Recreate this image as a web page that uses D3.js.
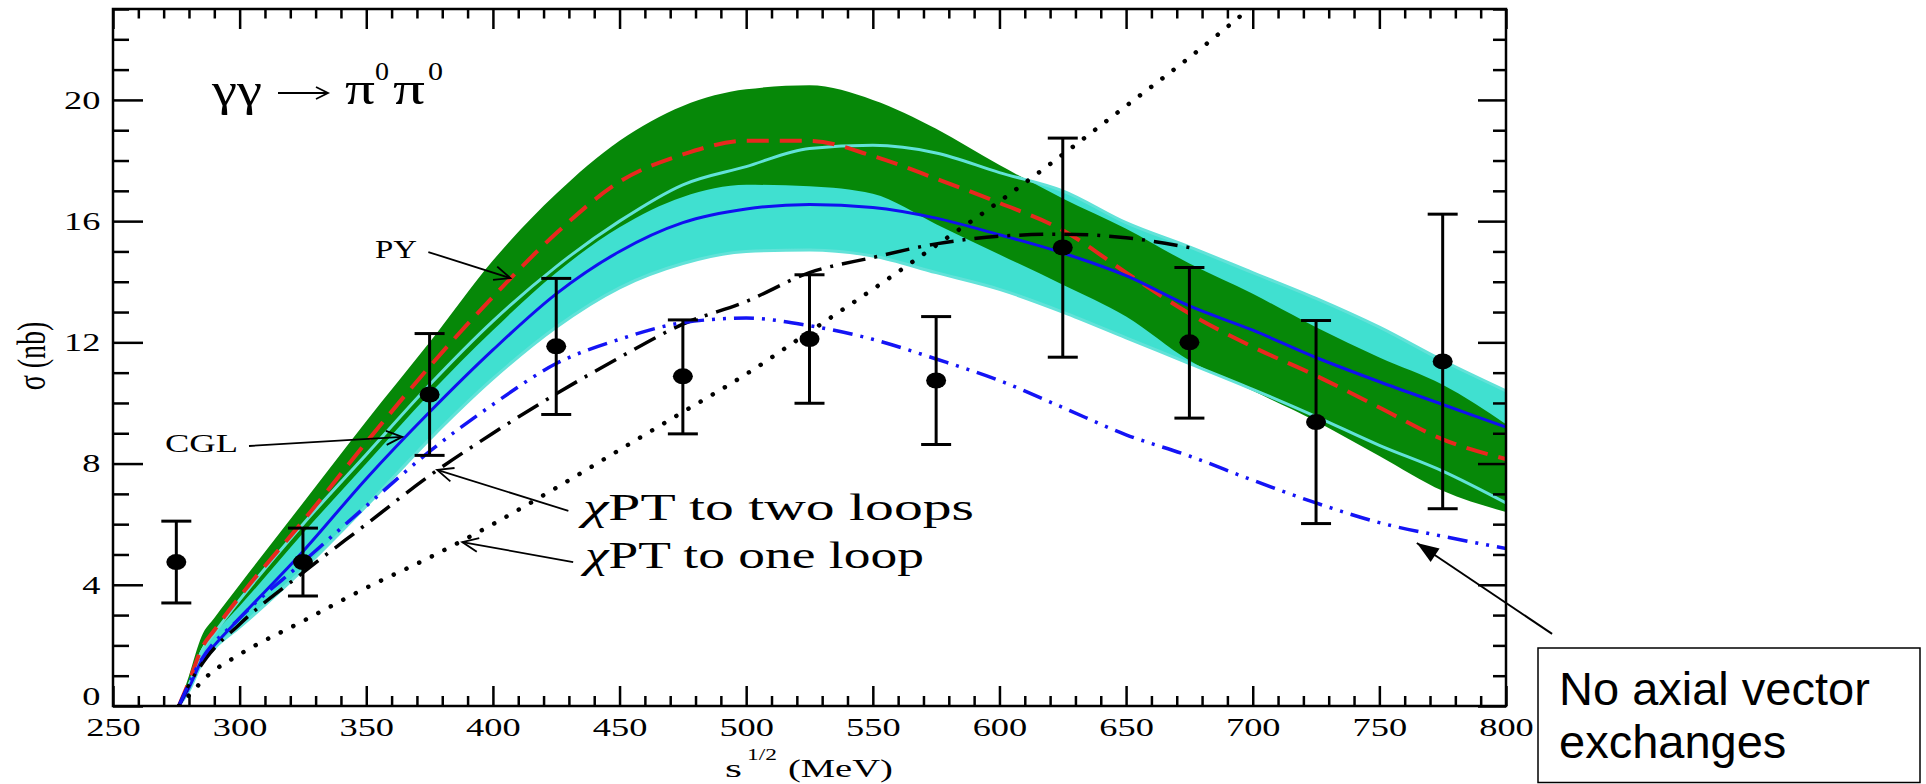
<!DOCTYPE html>
<html>
<head>
<meta charset="utf-8">
<script src="https://cdn.jsdelivr.net/npm/d3@7"></script>
<style>
  body { margin: 0; background: #fff; }
  svg { display: block; }
</style>
</head>
<body>
<script>
const W = 1926, H = 784;
const SERIF = "'Liberation Serif', 'Times New Roman', serif";
const SANS = "'Liberation Sans', Arial, sans-serif";

// sqrt(s) grid (MeV) shared by the two bands and their central curves
const bandX  = [276, 280, 285, 290, 300, 325, 350, 375, 400, 425, 450, 475, 500, 525, 550, 575, 600, 625, 650, 675, 700, 725, 750, 775, 800];
// PY band (green) and central curve (red dashed)
const pyHi   = [0, 1.0, 2.3, 2.9, 4.0, 6.7, 9.4, 12.0, 14.7, 16.9, 18.65, 19.8, 20.35, 20.48, 20.0, 19.05, 17.85, 16.75, 15.75, 14.6, 13.6, 12.5, 11.5, 10.6, 9.3];
const pyLo   = [0, 0.8, 1.9, 2.4, 3.3, 5.7, 8.0, 10.3, 12.4, 14.3, 15.8, 16.8, 17.2, 17.15, 16.9, 15.9, 14.9, 13.9, 12.85, 11.4, 10.4, 9.4, 8.25, 7.1, 6.4];
const pyMid  = [0, 0.8, 1.9, 2.5, 3.6, 6.1, 8.7, 11.2, 13.5, 15.6, 17.3, 18.2, 18.65, 18.65, 18.15, 17.4, 16.6, 15.7, 14.3, 12.95, 11.85, 10.9, 9.85, 8.8, 8.15];
// CGL band (turquoise) and central curve (blue)
const cglHi  = [0, 0.7, 1.8, 2.4, 3.5, 6.0, 8.3, 10.6, 12.7, 14.5, 16.0, 17.2, 17.8, 18.4, 18.5, 18.25, 17.6, 17.0, 15.95, 15.15, 14.3, 13.45, 12.5, 11.4, 10.4];
const cglLo  = [0, 0.5, 1.4, 1.9, 2.6, 4.5, 6.6, 8.8, 10.8, 12.5, 13.8, 14.6, 15.0, 15.05, 14.85, 14.3, 13.75, 13.0, 12.15, 11.3, 10.45, 9.55, 8.6, 7.75, 6.7];
const cglMid = [0, 0.6, 1.5, 2.0, 2.9, 5.1, 7.5, 9.7, 11.75, 13.6, 15.0, 15.95, 16.4, 16.55, 16.45, 16.1, 15.55, 14.95, 14.2, 13.2, 12.4, 11.5, 10.7, 9.95, 9.2];

// chiPT to two loops (black dash-dot)
const twoLoopX = [276, 280, 287, 300, 325, 350, 375, 400, 425, 450, 475, 500, 525, 550, 575, 600, 625, 650, 678];
const twoLoopY = [0, 0.7, 1.6, 2.7, 4.4, 6.0, 7.6, 9.0, 10.3, 11.5, 12.6, 13.35, 14.3, 14.8, 15.25, 15.5, 15.57, 15.45, 15.08];
// no axial vector exchanges (blue dash-dot-dot)
const noAxialX = [276, 284, 300, 325, 350, 375, 400, 425, 450, 475, 500, 525, 550, 575, 600, 625, 650, 675, 700, 725, 750, 775, 800];
const noAxialY = [0, 1.4, 2.9, 4.75, 6.6, 8.4, 9.95, 11.3, 12.1, 12.65, 12.8, 12.55, 12.1, 11.45, 10.74, 9.85, 8.95, 8.25, 7.45, 6.7, 6.05, 5.6, 5.2];
// chiPT to one loop (dotted)
const oneLoopX = [276, 280, 287, 300, 325, 350, 375, 400, 425, 450, 475, 500, 525, 550, 575, 600, 625, 650, 675, 700];
const oneLoopY = [0, 0.35, 0.97, 1.7, 2.8, 3.9, 4.9, 6.0, 7.2, 8.45, 9.7, 10.95, 12.35, 13.75, 15.2, 16.65, 18.2, 19.8, 21.4, 23.1];

// measured points with error bars
const dataX  = [275, 325, 375, 425, 475, 525, 575, 625, 675, 725, 775];
const dataY  = [4.75, 4.75, 10.28, 11.87, 10.88, 12.11, 10.74, 15.13, 12.0, 9.37, 11.37];
const dataLo = [3.4, 3.63, 8.27, 9.62, 8.98, 9.99, 8.63, 11.51, 9.5, 6.02, 6.51];
const dataHi = [6.1, 5.87, 12.29, 14.11, 12.74, 14.23, 12.85, 18.74, 14.47, 12.72, 16.23];

// axis ticks
const xMajor = d3.range(250, 801, 50);
const xMinor = d3.range(250, 801, 10).filter(v => v % 50 !== 0);
const yMajor = [0, 4, 8, 12, 16, 20];
const yMinor = d3.range(0, 24).filter(v => v % 4 !== 0);

// annotation arrows, [tail, tip] in (MeV, nb)
const arrowPY      = [[374.5, 14.98], [406.9, 14.12]];
const arrowCGL     = [[303.7, 8.58], [364.2, 8.88]];
const arrowTwoLoop = [[429.8, 6.44], [378.0, 7.79]];
const arrowOneLoop = [[431.7, 4.75], [387.9, 5.41]];
const arrowNoAxial = [[818.2, 2.38], [764.8, 5.38]];

const svg = d3.select("body").append("svg").attr("width", W).attr("height", H);
svg.append("rect").attr("width", W).attr("height", H).attr("fill", "#fff");

const x = d3.scaleLinear().domain([250, 800]).range([113, 1506]);
const y = d3.scaleLinear().domain([0, 23]).range([706, 9]);

svg.append("clipPath").attr("id", "plotclip").append("rect")
  .attr("x", 113).attr("y", 9).attr("width", 1393).attr("height", 697);
const plot = svg.append("g").attr("clip-path", "url(#plotclip)");

const band = (lo, hi) => d3.area().curve(d3.curveMonotoneX)
  .x(d => x(d)).y0((d, i) => y(lo[i])).y1((d, i) => y(hi[i]))(bandX);
const line = (xs, ys) => d3.line().curve(d3.curveMonotoneX)
  .x(d => x(d)).y((d, i) => y(ys[i]))(xs);

plot.append("path").attr("d", band(cglLo, cglHi)).attr("fill", "#40e0d0");
plot.append("path").attr("d", band(pyLo, pyHi)).attr("fill", "#068808");

// edges of the CGL band
[cglHi, cglLo].forEach(c => {
  plot.append("path").attr("d", line(bandX, c))
    .attr("fill", "none").attr("stroke", "#62e2d8").attr("stroke-width", 3);
});

plot.append("path").attr("d", line(bandX, pyMid))
  .attr("fill", "none").attr("stroke", "#e8281e").attr("stroke-width", 4)
  .attr("stroke-dasharray", "22,11");
plot.append("path").attr("d", line(bandX, cglMid))
  .attr("fill", "none").attr("stroke", "#1010f0").attr("stroke-width", 3);
plot.append("path").attr("d", line(twoLoopX, twoLoopY))
  .attr("fill", "none").attr("stroke", "#000").attr("stroke-width", 3.5)
  .attr("stroke-dasharray", "24,9,3,9");
plot.append("path").attr("d", line(noAxialX, noAxialY))
  .attr("fill", "none").attr("stroke", "#1414f5").attr("stroke-width", 3.5)
  .attr("stroke-dasharray", "20,8,3,8,3,8");
plot.append("path").attr("d", line(oneLoopX, oneLoopY))
  .attr("fill", "none").attr("stroke", "#000").attr("stroke-width", 4.5)
  .attr("stroke-linecap", "round").attr("stroke-dasharray", "0.1,14");

// error bars and points
const pts = svg.append("g");
dataX.forEach((v, i) => {
  const cx = x(v);
  pts.append("line").attr("x1", cx).attr("x2", cx).attr("y1", y(dataLo[i])).attr("y2", y(dataHi[i]))
    .attr("stroke", "#000").attr("stroke-width", 3);
  [dataLo[i], dataHi[i]].forEach(e => {
    pts.append("line").attr("x1", cx - 15).attr("x2", cx + 15).attr("y1", y(e)).attr("y2", y(e))
      .attr("stroke", "#000").attr("stroke-width", 3);
  });
  pts.append("ellipse").attr("cx", cx).attr("cy", y(dataY[i])).attr("rx", 10).attr("ry", 8).attr("fill", "#000");
});

// axes, ticks inside the frame
const noDomain = g => g.select(".domain").remove();
const tickStyle = g => g.selectAll(".tick line").attr("stroke", "#000").attr("stroke-width", 2.5);

svg.append("g").attr("transform", "translate(0,706)")
  .call(d3.axisBottom(x).tickValues(xMajor).tickSize(-20).tickPadding(12).tickFormat(d3.format("d")))
  .call(noDomain).call(tickStyle)
  .call(g => g.selectAll("text").attr("font-family", SERIF).attr("font-size", 26)
    .attr("fill", "#000").attr("transform", "scale(1.4,1)"));
svg.append("g").attr("transform", "translate(0,706)")
  .call(d3.axisBottom(x).tickValues(xMinor).tickSize(-10).tickFormat(""))
  .call(noDomain).call(tickStyle);
svg.append("g").attr("transform", "translate(0,9)")
  .call(d3.axisTop(x).tickValues(xMajor).tickSize(-20).tickFormat(""))
  .call(noDomain).call(tickStyle);
svg.append("g").attr("transform", "translate(0,9)")
  .call(d3.axisTop(x).tickValues(xMinor).tickSize(-9.5).tickFormat(""))
  .call(noDomain).call(tickStyle);

svg.append("g").attr("transform", "translate(113,0)")
  .call(d3.axisLeft(y).tickValues(yMajor).tickSize(-30).tickPadding(9).tickFormat(d3.format("d")))
  .call(noDomain).call(tickStyle)
  .call(g => g.selectAll("text").attr("font-family", SERIF).attr("font-size", 26)
    .attr("fill", "#000").attr("transform", "scale(1.4,1)"))
  .call(g => g.selectAll(".tick").filter(d => d === 0).select("text").attr("dy", "-0.05em"));
svg.append("g").attr("transform", "translate(113,0)")
  .call(d3.axisLeft(y).tickValues(yMinor).tickSize(-16).tickFormat(""))
  .call(noDomain).call(tickStyle);
svg.append("g").attr("transform", "translate(1506,0)")
  .call(d3.axisRight(y).tickValues(yMajor).tickSize(-28).tickFormat(""))
  .call(noDomain).call(tickStyle);
svg.append("g").attr("transform", "translate(1506,0)")
  .call(d3.axisRight(y).tickValues(yMinor).tickSize(-13).tickFormat(""))
  .call(noDomain).call(tickStyle);

svg.append("rect").attr("x", 113).attr("y", 9).attr("width", 1393).attr("height", 697)
  .attr("fill", "none").attr("stroke", "#000").attr("stroke-width", 2.5);

// text helpers: the original figure is stretched sideways, so fit widths
function fitText(str, x0, y0, size, width, family, style) {
  const t = svg.append("text").attr("font-family", family || SERIF).attr("font-size", size)
    .attr("font-style", style || "normal").attr("fill", "#000").text(str);
  const w = t.node().getComputedTextLength();
  t.attr("transform", `translate(${x0},${y0}) scale(${width / w},1)`);
  return t;
}

// title
fitText("γγ", 212, 105, 46, 50);
fitText("π", 345, 104, 46, 30);
fitText("0", 375, 80, 25, 14);
fitText("π", 393, 104, 46, 32);
fitText("0", 428, 80, 25, 15);

function arrowHead(g, x1, y1, x2, y2, len, half, filled) {
  const a = Math.atan2(y2 - y1, x2 - x1);
  const p1 = [x2 - len * Math.cos(a) + half * Math.sin(a), y2 - len * Math.sin(a) - half * Math.cos(a)];
  const p2 = [x2 - len * Math.cos(a) - half * Math.sin(a), y2 - len * Math.sin(a) + half * Math.cos(a)];
  if (filled) {
    g.append("path").attr("d", `M${x2},${y2}L${p1}L${p2}Z`).attr("fill", "#000");
  } else {
    g.append("path").attr("d", `M${p1}L${x2},${y2}L${p2}`).attr("fill", "none")
      .attr("stroke", "#000").attr("stroke-width", 1.8);
  }
}
// title arrow
svg.append("line").attr("x1", 278).attr("x2", 327).attr("y1", 93).attr("y2", 93)
  .attr("stroke", "#000").attr("stroke-width", 2);
arrowHead(svg, 278, 93, 328, 93, 12, 6, false);

// annotation arrows
const ann = svg.append("g");
[arrowPY, arrowCGL, arrowTwoLoop, arrowOneLoop].forEach(([a, b]) => {
  const x1 = x(a[0]), y1 = y(a[1]), x2 = x(b[0]), y2 = y(b[1]);
  ann.append("line").attr("x1", x1).attr("y1", y1).attr("x2", x2).attr("y2", y2)
    .attr("stroke", "#000").attr("stroke-width", 1.8);
  arrowHead(ann, x1, y1, x2, y2, 16, 7, false);
});
{
  const [a, b] = arrowNoAxial;
  const x1 = x(a[0]), y1 = y(a[1]), x2 = x(b[0]), y2 = y(b[1]);
  ann.append("line").attr("x1", x1).attr("y1", y1).attr("x2", x2).attr("y2", y2)
    .attr("stroke", "#000").attr("stroke-width", 2);
  arrowHead(ann, x1, y1, x2, y2, 22, 8, true);
}

fitText("PY", 375, 258, 26, 42);
fitText("CGL", 165, 452, 26, 73);

function chiLabel(rest, x0, y0, width) {
  const t = svg.append("text").attr("font-family", SERIF).attr("font-size", 37).attr("fill", "#000");
  t.append("tspan").attr("font-style", "italic").text("χ");
  t.append("tspan").text(rest);
  const w = t.node().getComputedTextLength();
  t.attr("transform", `translate(${x0},${y0}) scale(${width / w},1)`);
}
chiLabel("PT to two loops", 583, 520, 391);
chiLabel("PT to one loop", 585, 568, 339);

// axis titles
svg.append("text").attr("font-family", SERIF).attr("font-size", 28).attr("fill", "#000")
  .attr("text-anchor", "middle")
  .attr("transform", "translate(45,356) rotate(-90) scale(1,1.4)")
  .text("σ (nb)");
fitText("s", 725, 777, 26, 17);
fitText("1/2", 747, 760, 17, 30);
fitText("(MeV)", 788, 777, 26, 105);

// call-out box
svg.append("rect").attr("x", 1538).attr("y", 648).attr("width", 382).attr("height", 134.5)
  .attr("fill", "#fff").attr("stroke", "#000").attr("stroke-width", 1.5);
svg.append("text").attr("x", 1559).attr("y", 705).attr("font-family", SANS).attr("font-size", 47)
  .attr("fill", "#000").text("No axial vector");
svg.append("text").attr("x", 1559).attr("y", 758).attr("font-family", SANS).attr("font-size", 47)
  .attr("fill", "#000").text("exchanges");
</script>
</body>
</html>
